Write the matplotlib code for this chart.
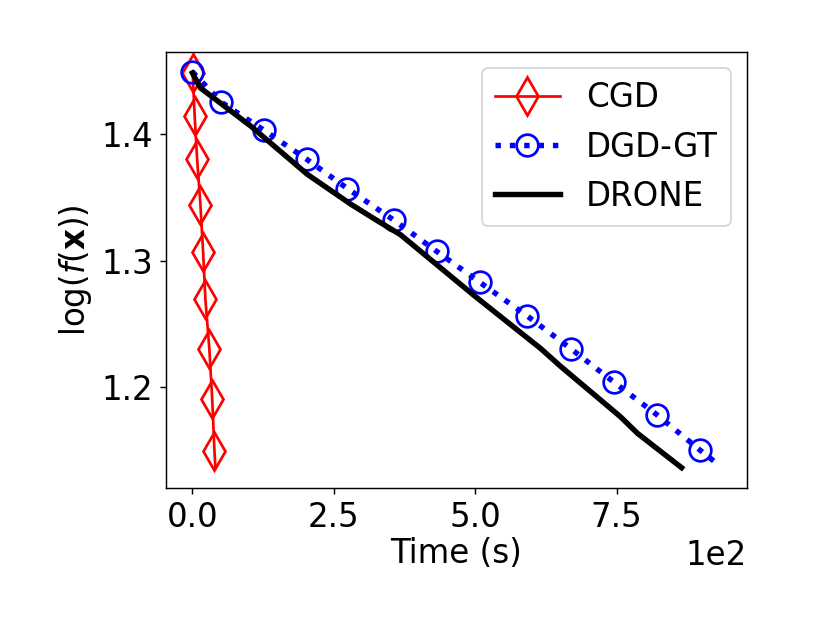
import numpy as np
import matplotlib
matplotlib.use('Agg')
import matplotlib.pyplot as plt


# time in seconds, objective in log scale
cgd_t = [0.5, 4, 8.3, 14.2, 18.9, 23, 30, 35, 39, 40.7]
cgd_f = [1.4484, 1.4144, 1.3805, 1.3442, 1.3071, 1.2692, 1.2298, 1.1903, 1.1492, 1.1356]

dgdgt_t = [0, 51, 126, 202, 274, 356, 432, 508, 591, 669, 746, 822, 897, 934]
dgdgt_f = [1.4495, 1.4255, 1.4034, 1.3803, 1.3571, 1.3321, 1.3073, 1.2829,
           1.2565, 1.2303, 1.2035, 1.1777, 1.1501, 1.137]

drone_t = [0, 14, 103, 203, 280, 327, 368, 498, 616, 651, 757, 787, 865]
drone_f = [1.4486, 1.4368, 1.4066, 1.3684, 1.3447, 1.3316, 1.3205, 1.2724,
           1.2303, 1.2163, 1.1763, 1.1632, 1.136]


plt.rcParams['font.size'] = 18

fig = plt.figure(figsize=(830 / 130, 623 / 130), dpi=130)
ax = fig.add_axes([0.2, 0.2167, 0.7, 0.6998])

ax.plot(cgd_t, cgd_f, color='red', lw=1.5, marker='d', markersize=15,
        markerfacecolor='none', markeredgewidth=1.5,
        markevery=list(range(len(cgd_t) - 1)), label='CGD')
ax.plot(dgdgt_t, dgdgt_f, color='blue', lw=3, ls=':', marker='o', markersize=12,
        markerfacecolor='none', markeredgewidth=1.5,
        markevery=list(range(len(dgdgt_t) - 1)), label='DGD-GT')
ax.plot(drone_t, drone_f, color='black', lw=3, label='DRONE')

ax.set_xticks([0, 250, 500, 750])
ax.set_yticks([1.2, 1.3, 1.4])
ax.ticklabel_format(axis='x', style='sci', scilimits=(0, 0))

ax.set_xlabel('Time (s)', labelpad=2)
ax.set_ylabel(r'$\log(f(\mathbf{x}))$')
ax.legend(loc='upper right')

fig.savefig('out.png', dpi=130)
